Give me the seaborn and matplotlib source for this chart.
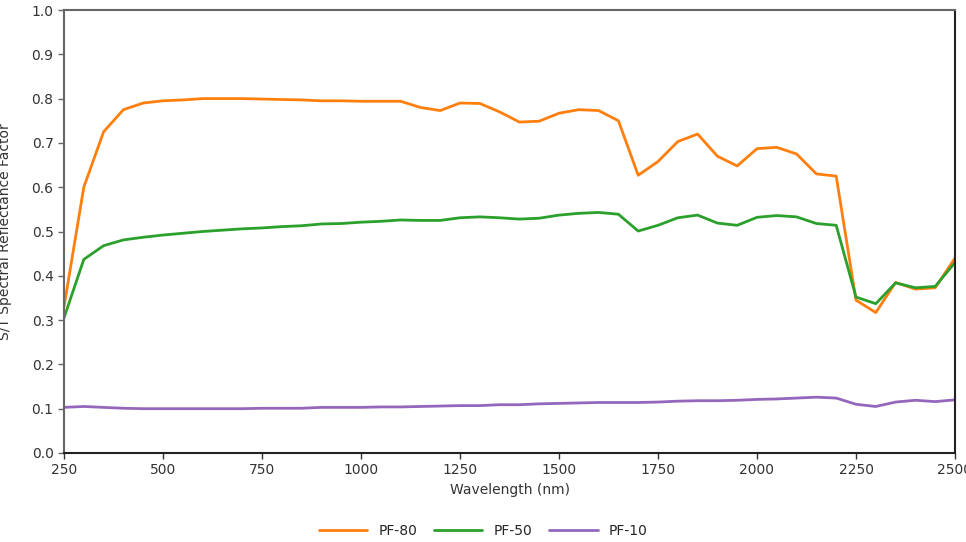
import numpy as np
import pandas as pd
import matplotlib
matplotlib.use("Agg")
import matplotlib.pyplot as plt
import seaborn as sns

wavelength = list(range(250, 2501, 50))

pf80 = [0.33, 0.60, 0.725, 0.775, 0.790, 0.795, 0.797, 0.800, 0.800, 0.800,
        0.799, 0.798, 0.797, 0.795, 0.795, 0.794, 0.794, 0.794, 0.780, 0.773,
        0.790, 0.789, 0.770, 0.747, 0.749, 0.767, 0.775, 0.773, 0.750, 0.627,
        0.658, 0.703, 0.720, 0.670, 0.648, 0.687, 0.690, 0.675, 0.630, 0.625,
        0.345, 0.317, 0.385, 0.370, 0.373, 0.440]

pf50 = [0.305, 0.437, 0.468, 0.481, 0.487, 0.492, 0.496, 0.500, 0.503, 0.506,
        0.508, 0.511, 0.513, 0.517, 0.518, 0.521, 0.523, 0.526, 0.525, 0.525,
        0.531, 0.533, 0.531, 0.528, 0.530, 0.537, 0.541, 0.543, 0.539, 0.501,
        0.514, 0.531, 0.537, 0.519, 0.514, 0.532, 0.536, 0.533, 0.518, 0.514,
        0.352, 0.337, 0.384, 0.373, 0.376, 0.430]

pf10 = [0.103, 0.105, 0.103, 0.101, 0.100, 0.100, 0.100, 0.100, 0.100, 0.100,
        0.101, 0.101, 0.101, 0.103, 0.103, 0.103, 0.104, 0.104, 0.105, 0.106,
        0.107, 0.107, 0.109, 0.109, 0.111, 0.112, 0.113, 0.114, 0.114, 0.114,
        0.115, 0.117, 0.118, 0.118, 0.119, 0.121, 0.122, 0.124, 0.126, 0.124,
        0.110, 0.105, 0.115, 0.119, 0.116, 0.120]

series = ["PF-80", "PF-50", "PF-10"]
colors = ["#ff7f0e", "#2ca02c", "#9467bd"]

df = pd.concat([
    pd.DataFrame({"Wavelength": wavelength, "Value": vals, "Sample": name})
    for name, vals in zip(series, [pf80, pf50, pf10])
])

sns.set_style("white")
plt.rcParams['font.family'] = ['DejaVu Sans']

fig = plt.figure(figsize=(9.66, 5.42), dpi=100)
ax = fig.add_axes([64/966, 89/542, 891/966, 443/542])

sns.lineplot(data=df, x="Wavelength", y="Value", hue="Sample",
             palette=colors, linewidth=2, ax=ax, legend=True)

ax.set_xlim(250, 2500)
ax.set_ylim(0, 1.0)
ax.set_xticks(range(250, 2501, 250))
ax.set_yticks(np.arange(0, 1.01, 0.1))
ax.set_yticklabels([f"{v:.1f}" for v in np.arange(0, 1.01, 0.1)])
ax.tick_params(axis="both", direction="out", length=4, width=1,
               labelsize=10, colors="#333333", left=True, bottom=True)
ax.tick_params(axis="y", color="#666666")

for side in ["top", "left"]:
    ax.spines[side].set_color("#666666")
for side in ["bottom", "right"]:
    ax.spines[side].set_color("#222222")
for sp in ax.spines.values():
    sp.set_linewidth(1.5)

ax.set_xlabel("Wavelength (nm)", fontsize=10, color="#333333")
ax.set_ylabel("S/T Spectral Reflectance Factor", fontsize=10, color="#333333")
ax.yaxis.set_label_coords(-0.058, 0.5)

ax.legend(loc="center", bbox_to_anchor=(0.5, 0.02), bbox_transform=fig.transFigure,
          ncol=3, frameon=False, fontsize=10, handlelength=3.5, columnspacing=1.2)

fig.savefig("out.png", dpi=100)
